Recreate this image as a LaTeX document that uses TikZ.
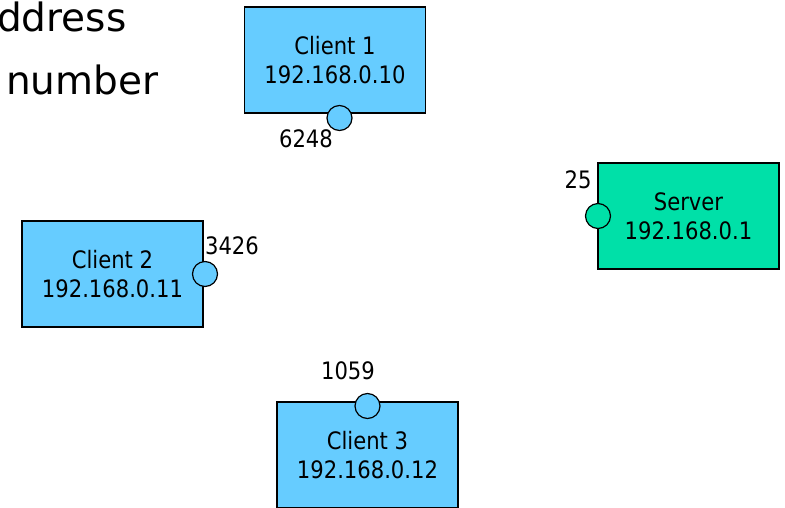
\documentclass[tikz,border=0pt]{standalone}
\usepackage{fontspec}
\setmainfont{DejaVu Sans}[FakeStretch=0.88]
\newfontfamily\bigfont{DejaVu Sans}
\definecolor{clientblue}{HTML}{66CCFF}
\definecolor{servergreen}{HTML}{00E0A8}
\begin{document}
\begin{tikzpicture}[x=1pt,y=-1pt,
  hostbox/.style={draw=black, line width=1.4pt, minimum width=181pt, minimum height=106pt,
    inner sep=0pt, align=center, font=\fontsize{24}{29}\selectfont},
  portdot/.style={circle, draw=black, line width=1.2pt, minimum size=25pt, inner sep=0pt},
  portlabel/.style={font=\fontsize{24}{29}\selectfont, inner sep=0pt, anchor=base},
  bigtext/.style={font=\bigfont\fontsize{39}{46}\selectfont, inner sep=0pt, anchor=base west}
]
\useasboundingbox (0,0) rectangle (785,507);
\clip (0,0) rectangle (785,507);

\node[bigtext] (t1) at (-3,31) {ddress};
\node[bigtext] (t2) at (6,94) {number};

\node[hostbox, fill=clientblue] (c1) at (335,60) {Client 1\\192.168.0.10};
\node[portdot, fill=clientblue] (p1) at (339.5,118) {};
\node[portlabel] (l1) at (306,147) {6248};

\node[hostbox, fill=servergreen] (s) at (688.5,216) {Server\\192.168.0.1};
\node[portdot, fill=servergreen] (ps) at (598,216) {};
\node[portlabel] (ls) at (578,188) {25};

\node[hostbox, fill=clientblue] (c2) at (112.5,274) {Client 2\\192.168.0.11};
\node[portdot, fill=clientblue] (p2) at (205,274) {};
\node[portlabel] (l2) at (232,254) {3426};

\node[hostbox, fill=clientblue] (c3) at (367.5,455) {Client 3\\192.168.0.12};
\node[portdot, fill=clientblue] (p3) at (367.5,406) {};
\node[portlabel] (l3) at (348,379) {1059};
\end{tikzpicture}
\end{document}
